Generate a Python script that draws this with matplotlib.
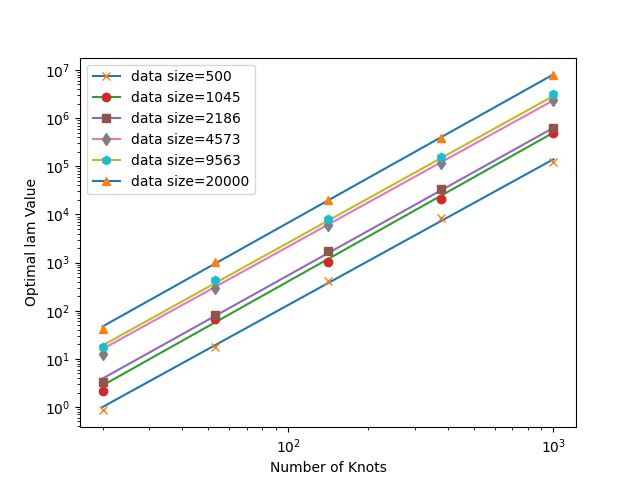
import numpy as np
import matplotlib
matplotlib.use('Agg')
import matplotlib.pyplot as plt

knots = [20, 53.2, 141.4, 376.1, 1000]
sizes = [500, 1045, 2186, 4573, 9563, 20000]
markers = ['x', 'o', 's', 'd', 'h', '^']

# optimal lam values, one list per data size
lam_500 = [0.85, 17.4, 420, 8300, 125000]
lam_1045 = [2.1, 67, 1050, 20700, 484000]
lam_2186 = [3.3, 83, 1700, 33000, 630000]
lam_4573 = [12.6, 303, 5970, 119000, 2380000]
lam_9563 = [17.3, 431, 8200, 159000, 3100000]
lam_20000 = [41, 1035, 20000, 390000, 7800000]

# fitted line end points at 20 and 1000 knots
fit_lo = [1.0, 2.8, 3.9, 16, 19, 47]
fit_hi = [140000, 500000, 630000, 2350000, 2900000, 8100000]

data = [lam_500, lam_1045, lam_2186, lam_4573, lam_9563, lam_20000]
ends = [knots[0], knots[-1]]

fig = plt.figure(figsize=(6.4, 4.8), dpi=100)
handles, labels = [], []
for i in range(len(sizes)):
    line, = plt.plot(ends, [fit_lo[i], fit_hi[i]])
    pts, = plt.plot(knots, data[i], markers[i], linestyle='none')
    handles.append((line, pts))
    labels.append('data size={}'.format(sizes[i]))

plt.xscale('log')
plt.yscale('log')
plt.xlabel('Number of Knots')
plt.ylabel('Optimal lam Value')
plt.legend(handles, labels, loc='upper left')
plt.savefig('out.png')
